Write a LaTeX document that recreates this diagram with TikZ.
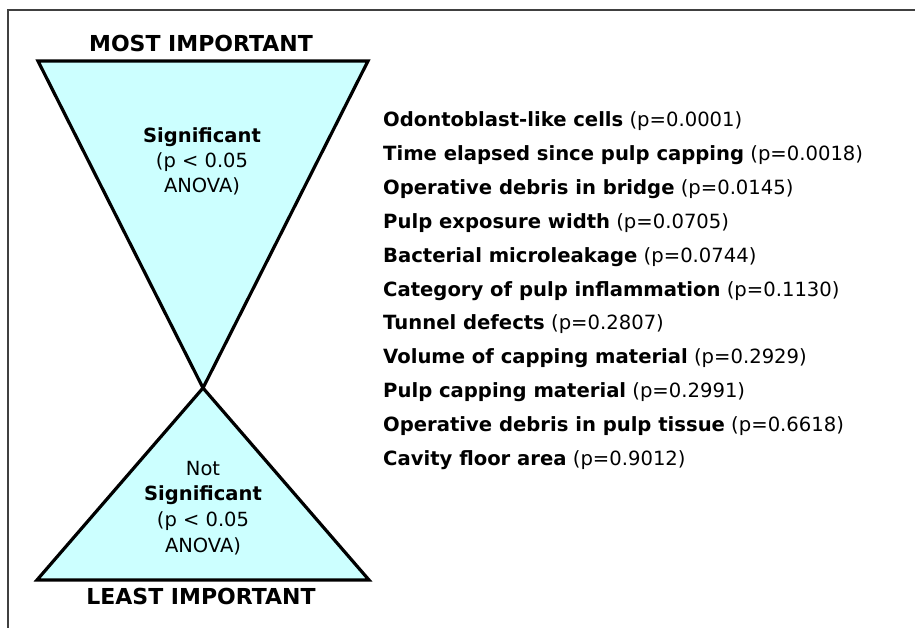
\documentclass[tikz,border=0pt]{standalone}
\usepackage{fontspec}
\setmainfont{DejaVu Sans}
\begin{document}
\begin{tikzpicture}[x=1pt,y=-1pt,
  tri/.style={draw=black,line width=3.2pt,fill=cyanfill,line join=miter},
  head/.style={font=\fontsize{22}{26}\selectfont\bfseries,anchor=base,inner sep=0pt},
  trit/.style={font=\fontsize{19.5}{24}\selectfont,anchor=base,inner sep=0pt},
  item/.style={font=\fontsize{19.6}{23}\selectfont,anchor=base west,inner sep=0pt}]
\definecolor{cyanfill}{HTML}{CCFFFF}
\definecolor{framegray}{HTML}{404040}
\useasboundingbox (0,0) rectangle (915,628);
% frame
\coordinate (fbl) at (8,628);
\coordinate (ftl) at (8,10);
\coordinate (ftr) at (915,10);
\draw[framegray,line width=2pt] (fbl) -- (ftl) -- (ftr);
% triangles
\coordinate (apex) at (203,388);
\coordinate (tl) at (38,61);
\coordinate (tr) at (368,61);
\coordinate (bl) at (37,580);
\coordinate (br) at (369,580);
\draw[tri] (tl) -- (tr) -- (apex) -- cycle;
\draw[tri] (apex) -- (br) -- (bl) -- cycle;
% headings
\node[head] (most) at (201,52) {MOST IMPORTANT};
\node[head] (least) at (201,604) {LEAST IMPORTANT};
% top triangle text
\node[trit] (s1) at (202,143) {\bfseries Significant};
\node[trit] (s2) at (202,168) {(p < 0.05};
\node[trit] (s3) at (202,193) {ANOVA)};
% bottom triangle text
\node[trit] (n0) at (203,475) {Not};
\node[trit] (n1) at (203,500) {\bfseries Significant};
\node[trit] (n2) at (203,526) {(p < 0.05};
\node[trit] (n3) at (203,552) {ANOVA)};
% list
\foreach \t/\p [count=\i from 0] in {
  Odontoblast-like cells/0.0001,
  Time elapsed since pulp capping/0.0018,
  Operative debris in bridge/0.0145,
  Pulp exposure width/0.0705,
  Bacterial microleakage/0.0744,
  Category of pulp inflammation/0.1130,
  Tunnel defects/0.2807,
  Volume of capping material/0.2929,
  Pulp capping material/0.2991,
  Operative debris in pulp tissue/0.6618,
  Cavity floor area/0.9012}{
  \node[item] (it\i) at (383,127+33.8*\i) {\textbf{\t} (p=\p)};
}
\end{tikzpicture}
\end{document}
